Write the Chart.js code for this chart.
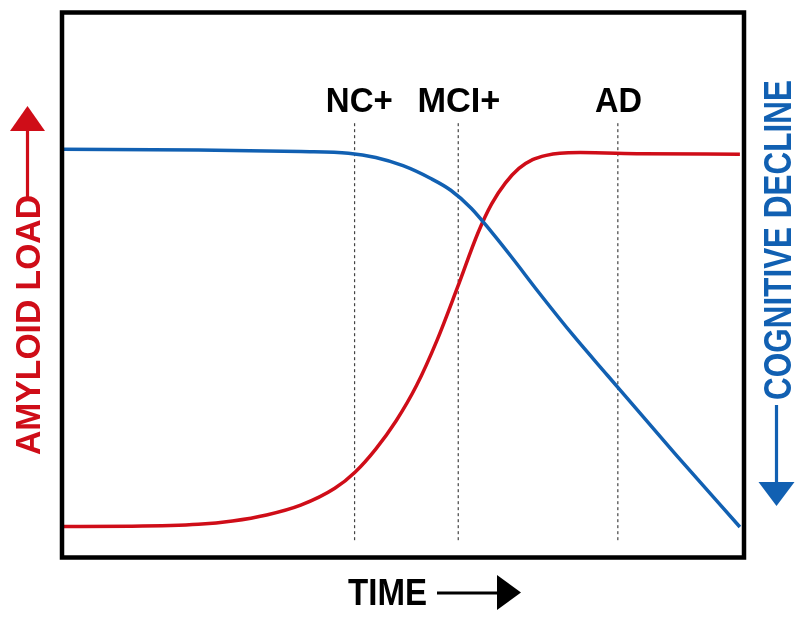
<!DOCTYPE html>
<html><head><meta charset="utf-8">
<script src="https://cdn.jsdelivr.net/npm/chart.js@4"></script>
<style>html,body{margin:0;padding:0;background:#fff;} canvas{display:block;}</style>
</head><body>
<canvas id="c" width="800" height="617"></canvas>
<script>
// Time axis runs 0..100, value axis 0..100
const amyloidX = [0, 10, 20, 25, 30, 35, 40, 43, 46, 49, 52, 55, 58, 61, 63, 65, 67, 69, 71, 73, 76, 85, 99.4];
const amyloidY = [5.6, 5.65, 6.0, 6.6, 7.7, 9.5, 12.6, 15.6, 19.8, 25.0, 31.5, 39.8, 49.5, 59.5, 64.8, 68.6, 71.3, 72.9, 73.7, 74.1, 74.2, 74.0, 73.9];
const cognitionX = [0, 20, 35, 42, 46, 50, 54, 57, 60, 63, 66, 70, 75, 80, 90, 99.4];
const cognitionY = [74.8, 74.7, 74.4, 74.1, 73.3, 71.8, 69.5, 67.3, 64.0, 59.6, 54.9, 48.4, 40.6, 33.3, 18.8, 5.5];
const stageLabels = ['NC+', 'MCI+', 'AD'];
const stageX = [42.9, 58.1, 81.5];
const stageLabelX = [43.6, 58.2, 81.6];
const stageLineTop = 79.6;
const stageLineBottom = 2.6;
const stageLabelY = 83.9;
const axisTitles = { left: 'AMYLOID LOAD', right: 'COGNITIVE DECLINE', bottom: 'TIME' };

const RED = '#cf0d18';
const BLUE = '#1160b2';

const toPts = (xs, ys) => xs.map((v, i) => ({ x: v, y: ys[i] }));

const datasets = [
  { data: toPts(cognitionX, cognitionY), borderColor: BLUE, borderWidth: 3.5, pointRadius: 0, cubicInterpolationMode: 'monotone', fill: false },
  { data: toPts(amyloidX, amyloidY), borderColor: RED, borderWidth: 3.5, pointRadius: 0, cubicInterpolationMode: 'monotone', fill: false }
];
stageX.forEach(sx => {
  datasets.push({ data: [{ x: sx, y: stageLineTop }, { x: sx, y: stageLineBottom }], borderColor: '#444', borderWidth: 1.2, borderDash: [3, 3], pointRadius: 0, fill: false });
});

function drawFit(ctx, text, cx, cy, capH, targetW, rot, color) {
  const fs = capH / 0.716;
  ctx.save();
  ctx.font = 'bold ' + fs + 'px "Liberation Sans", Arial, sans-serif';
  const w = ctx.measureText(text).width;
  ctx.translate(cx, cy);
  ctx.rotate(rot);
  ctx.scale(targetW / w, 1);
  ctx.fillStyle = color;
  ctx.textAlign = 'center';
  ctx.textBaseline = 'alphabetic';
  ctx.fillText(text, 0, capH / 2);
  ctx.restore();
}
function tri(ctx, pts, color) {
  ctx.beginPath();
  ctx.moveTo(pts[0][0], pts[0][1]);
  ctx.lineTo(pts[1][0], pts[1][1]);
  ctx.lineTo(pts[2][0], pts[2][1]);
  ctx.closePath();
  ctx.fillStyle = color;
  ctx.fill();
}
function seg(ctx, x1, y1, x2, y2, color, w) {
  ctx.beginPath();
  ctx.moveTo(x1, y1); ctx.lineTo(x2, y2);
  ctx.strokeStyle = color; ctx.lineWidth = w; ctx.stroke();
}

const decor = {
  id: 'decor',
  afterDatasetsDraw(chart) {
    const { ctx, chartArea: a, scales: { x, y } } = chart;
    ctx.save();
    ctx.strokeStyle = '#000';
    ctx.lineWidth = 4.5;
    ctx.strokeRect(a.left, a.top + 0.5, a.right - a.left, a.bottom - a.top);
    const widths = [67, 83, 47];
    stageLabels.forEach((t, i) => {
      drawFit(ctx, t, x.getPixelForValue(stageLabelX[i]), y.getPixelForValue(stageLabelY), 25, widths[i], 0, '#000');
    });
    // left title + arrow
    drawFit(ctx, axisTitles.left, a.left - 34.5, 325, 25, 260, -Math.PI / 2, RED);
    seg(ctx, a.left - 34.5, 197, a.left - 34.5, 128, RED, 3.2);
    tri(ctx, [[a.left - 34.5, 106], [a.left - 52, 131], [a.left - 17, 131]], RED);
    // right title + arrow
    drawFit(ctx, axisTitles.right, a.right + 32.5, 240, 28, 320, -Math.PI / 2, BLUE);
    seg(ctx, a.right + 32.5, 405, a.right + 32.5, 484, BLUE, 3.2);
    tri(ctx, [[a.right + 14.5, 482], [a.right + 50.5, 482], [a.right + 32.5, 506]], BLUE);
    // bottom title + arrow
    drawFit(ctx, axisTitles.bottom, 387.5, a.bottom + 35, 26, 79, 0, '#000');
    seg(ctx, 437, a.bottom + 36, 499, a.bottom + 36, '#000', 3.2);
    tri(ctx, [[497, a.bottom + 18], [497, a.bottom + 53], [521, a.bottom + 35.5]], '#000');
    ctx.restore();
  }
};

new Chart(document.getElementById('c'), {
  type: 'line',
  data: { datasets },
  options: {
    responsive: false,
    animation: false,
    events: [],
    layout: { padding: { left: 62, right: 56, top: 12, bottom: 60 } },
    plugins: { legend: { display: false }, tooltip: { enabled: false } },
    scales: {
      x: { type: 'linear', min: 0, max: 100, display: false },
      y: { type: 'linear', min: 0, max: 100, display: false }
    }
  },
  plugins: [decor]
});
</script>
</body></html>
